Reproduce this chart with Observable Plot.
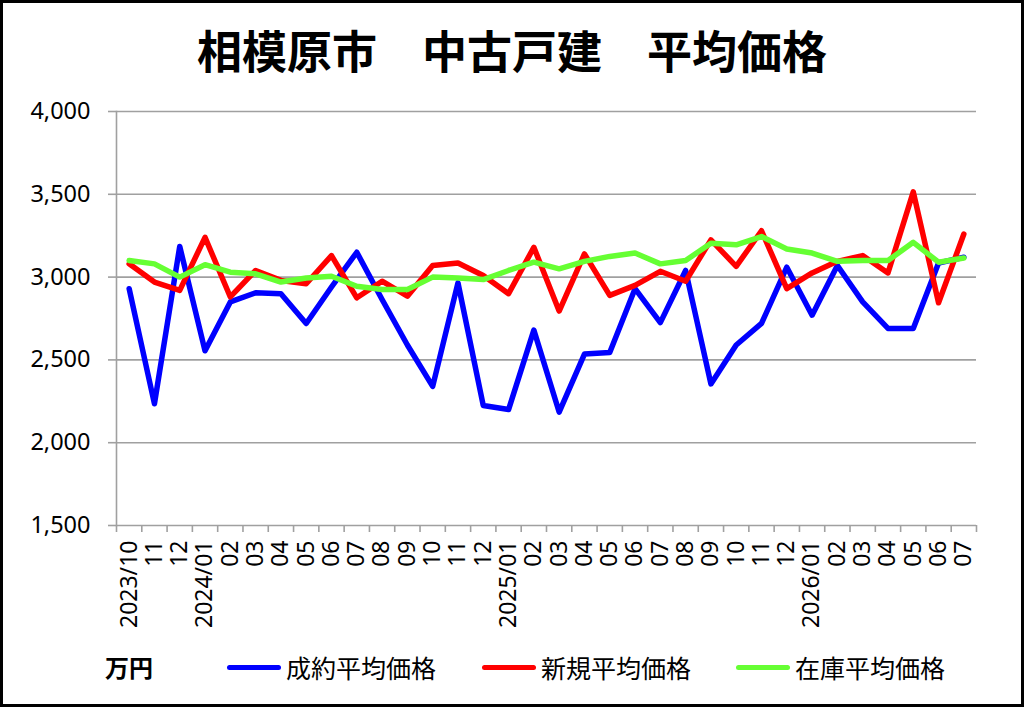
<!DOCTYPE html>
<html><head><meta charset="utf-8">
<script src="https://cdn.jsdelivr.net/npm/d3@7"></script>
<script src="https://cdn.jsdelivr.net/npm/@observablehq/plot@0.6"></script>
<style>
body{margin:0;background:#fff;}
#wrap{position:relative;width:1024px;height:707px;overflow:hidden;background:#fff;}
#frame{position:absolute;left:0;top:0;width:1024px;height:707px;box-sizing:border-box;border:3px solid #000;pointer-events:none;}
#title{position:absolute;left:0;width:1024px;top:22px;text-align:center;font-family:"Noto Sans CJK JP";font-weight:700;font-size:45px;line-height:56px;white-space:pre;}
#chart{position:absolute;left:0;top:0;}
.leg{position:absolute;font-family:"Noto Sans CJK JP";font-size:25px;line-height:30px;top:652px;white-space:nowrap;color:#000;}
.sw{position:absolute;height:5px;top:665px;border-radius:3px;}
</style></head><body>
<div id="wrap">
  <div id="chart"></div>
  <div id="title">相模原市　中古戸建　平均価格</div>
  <div id="legend"></div>
  <div id="frame"></div>
</div>
<script>
const labels = ["2023/10","11","12","2024/01","02","03","04","05","06","07","08","09","10","11","12","2025/01","02","03","04","05","06","07","08","09","10","11","12","2026/01","02","03","04","05","06","07"];
const seiyaku = [2930,2235,3185,2555,2850,2905,2900,2720,2940,3150,2865,2590,2340,2965,2225,2200,2680,2185,2535,2545,2930,2725,3040,2355,2590,2720,3060,2770,3070,2850,2690,2690,3085,3120];
const shinki  = [3080,2970,2920,3240,2880,3040,2980,2960,3130,2875,2975,2885,3070,3085,3010,2900,3180,2795,3140,2890,2950,3035,2975,3225,3065,3280,2930,3025,3095,3130,3025,3515,2845,3260];
const zaiko   = [3100,3080,3000,3075,3030,3020,2970,2995,3005,2945,2925,2925,3000,2995,2985,3040,3090,3050,3095,3125,3145,3080,3100,3205,3195,3245,3170,3145,3095,3100,3100,3210,3090,3115];
const seriesNames = ["成約平均価格","新規平均価格","在庫平均価格"];
const seriesColors = ["#0000ff","#ff0000","#66ff33"];
const yTicks = [1500,2000,2500,3000,3500,4000];
const unitLabel = "万円";

const seriesValues = [seiyaku, shinki, zaiko];
const n = labels.length;
const data = [];
seriesValues.forEach((vals, k) => vals.forEach((v, i) => data.push({i: i + 0.5, value: v, name: seriesNames[k]})));

const gray = "#a0a0a0";
const chart = Plot.plot({
  width: 1024, height: 640,
  marginTop: 111, marginBottom: 115, marginLeft: 116, marginRight: 48,
  style: {fontFamily: "Noto Sans", fontSize: "22px", color: "#000", background: "transparent", overflow: "visible"},
  x: {domain: [0, n], label: null},
  y: {domain: [1500, 4000], label: null},
  color: {domain: seriesNames, range: seriesColors},
  marks: [
    Plot.gridY(yTicks, {stroke: gray, strokeOpacity: 1, strokeWidth: 1.6}),
    Plot.axisY(yTicks, {tickSize: 8, tickPadding: 18, fontSize: 23.5, tickFormat: d3.format(","), stroke: gray, strokeWidth: 1.6, label: null}),
    Plot.frame({anchor: "left", stroke: gray, strokeWidth: 1.6}),
    Plot.axisX(d3.range(n + 1), {tickSize: 7, tickFormat: () => "", stroke: gray, strokeWidth: 1.6, label: null}),
    Plot.axisX(d3.range(n).map(i => i + 0.5), {tickSize: 0, tickPadding: 15, tickRotate: -90, fontSize: 23, tickFormat: d => labels[Math.round(d - 0.5)], label: null}),
    Plot.line(data, {x: "i", y: "value", z: "name", stroke: "name", strokeWidth: 5.5, strokeLinejoin: "round", strokeLinecap: "round"})
  ]
});
document.getElementById("chart").appendChild(chart);

// legend
const legend = document.getElementById("legend");
const unit = document.createElement("div");
unit.className = "leg";
unit.style.left = "105px";
unit.style.fontWeight = "700";
unit.style.fontSize = "24px";
unit.textContent = unitLabel;
legend.appendChild(unit);
const swX = [227, 482, 736];
seriesNames.forEach((name, k) => {
  const sw = document.createElement("div");
  sw.className = "sw";
  sw.style.left = swX[k] + "px";
  sw.style.width = "54px";
  sw.style.background = seriesColors[k];
  legend.appendChild(sw);
  const t = document.createElement("div");
  t.className = "leg";
  t.style.left = (swX[k] + 59) + "px";
  t.textContent = name;
  legend.appendChild(t);
});
</script>
</body></html>
